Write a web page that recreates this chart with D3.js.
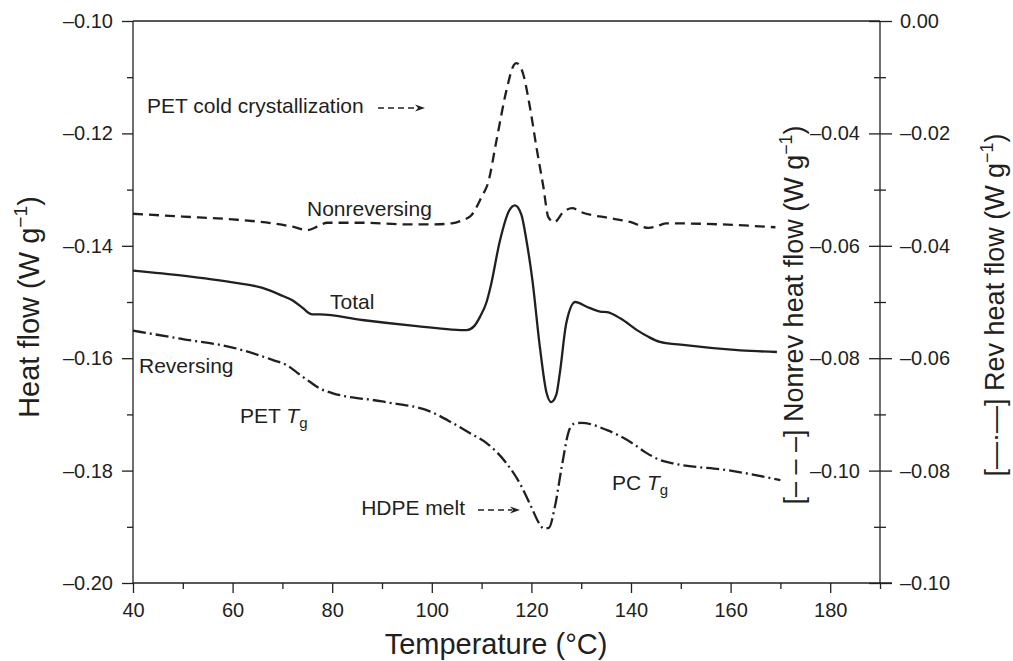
<!DOCTYPE html>
<html><head><meta charset="utf-8">
<script src="https://cdn.jsdelivr.net/npm/d3@7"></script>
<style>
body{margin:0;background:#fff;}
svg text{font-family:"Liberation Sans",Arial,Helvetica,sans-serif;fill:#231f20;}
</style></head>
<body><svg id="chart" width="1013" height="661"></svg>
<script>
// ---- data ----
const tempNonrev = [40,50,60,68,72,75,77,79,86,95,100,104,106,108,110,111.3,113,115,116.5,117,118.3,119.7,121,122.4,123.4,124.6,126.4,128.2,130,136,140,143.5,145,147,155,169];
const nonrev = [-0.0543,-0.0548,-0.0553,-0.0560,-0.0566,-0.0572,-0.0566,-0.0559,-0.0559,-0.0562,-0.0562,-0.0560,-0.0555,-0.0545,-0.0513,-0.0488,-0.0412,-0.0323,-0.0278,-0.0275,-0.0293,-0.0353,-0.0424,-0.0495,-0.0549,-0.0558,-0.0540,-0.0533,-0.0540,-0.0551,-0.0558,-0.0568,-0.0566,-0.0560,-0.0561,-0.0567];

const tempTotal = [40,50,60,66,70,72,74,76,77.5,86,97,104,107,108.5,109.7,111,111.8,113.7,115.5,116.7,118,119,120.2,121.7,123,124,125,125.7,127,128.8,131,133.8,135.2,138,141.2,143.5,145.8,150,162,169.3];
const total = [-0.1444,-0.1453,-0.1465,-0.1475,-0.1489,-0.1497,-0.1510,-0.1522,-0.1522,-0.1532,-0.1543,-0.1549,-0.1550,-0.1543,-0.1526,-0.1500,-0.1473,-0.1390,-0.1338,-0.1328,-0.1345,-0.1390,-0.1461,-0.1580,-0.1660,-0.1678,-0.1665,-0.1627,-0.1538,-0.1500,-0.1508,-0.1517,-0.1518,-0.1530,-0.1550,-0.1562,-0.1571,-0.1576,-0.1586,-0.1589];

const tempRev = [40,50,60,68,71,73,75.5,77.5,80,90,100,104.3,108,111,115,117.7,120,121.5,122.5,123.5,124.7,126.1,127.5,128.5,130,135.2,140.4,143,145.8,148.4,160,170];
const rev = [-0.0551,-0.0566,-0.0581,-0.0603,-0.0613,-0.0626,-0.0642,-0.0654,-0.0662,-0.0677,-0.0696,-0.0716,-0.0735,-0.0751,-0.0787,-0.0823,-0.0865,-0.0893,-0.0903,-0.0902,-0.0865,-0.0793,-0.0730,-0.0717,-0.0715,-0.0728,-0.0752,-0.0768,-0.0781,-0.0787,-0.0800,-0.0817];

const xTicks = [40,60,80,100,120,140,160,180];
const xMinor = [50,70,90,110,130,150,170,190];
const leftTicks = [-0.20,-0.18,-0.16,-0.14,-0.12,-0.10];
const leftMinor = [-0.19,-0.17,-0.15,-0.13,-0.11];
const nonrevTicks = [-0.10,-0.08,-0.06,-0.04];
const revTicks = [-0.10,-0.08,-0.06,-0.04,-0.02,0.00];
const revMinor = [-0.09,-0.07,-0.05,-0.03,-0.01];

// ---- layout ----
const L=133, R=880, T=21, B=583;
const svg = d3.select("#chart");
const ink = "#231f20";

const x = d3.scaleLinear([40,190],[L,R]);
const yL = d3.scaleLinear([-0.20,-0.10],[B,T]);
const yN = d3.scaleLinear([-0.12,-0.02],[B,T]);
const yR = d3.scaleLinear([-0.10,0.00],[B,T]);

const fmt = d => (d<0?"\u2013":"") + Math.abs(d).toFixed(2);

function style(g){
  g.select(".domain").remove();
  g.selectAll("line").attr("stroke",ink).attr("stroke-width",1.3);
  g.selectAll("text").attr("font-size",20).style("fill",ink);
}

// frame lines
svg.append("line").attr("x1",L).attr("x2",R).attr("y1",T).attr("y2",T).attr("stroke",ink).attr("stroke-width",1.3);
svg.append("line").attr("x1",L).attr("x2",R+12).attr("y1",B).attr("y2",B).attr("stroke",ink).attr("stroke-width",1.3);
svg.append("line").attr("x1",L).attr("x2",L).attr("y1",T).attr("y2",B).attr("stroke",ink).attr("stroke-width",1.3);
svg.append("line").attr("x1",R).attr("x2",R).attr("y1",T).attr("y2",B).attr("stroke",ink).attr("stroke-width",1.3);

// bottom axis
svg.append("g").attr("transform",`translate(0,${B})`)
  .call(d3.axisBottom(x).tickValues(xTicks).tickSize(10).tickPadding(10).tickFormat(d3.format("d"))).call(style);
svg.append("g").attr("transform",`translate(0,${B})`)
  .call(d3.axisBottom(x).tickValues(xMinor).tickSize(6).tickFormat("")).call(style);

// left axis
svg.append("g").attr("transform",`translate(${L},0)`)
  .call(d3.axisLeft(yL).tickValues(leftTicks).tickSize(11).tickPadding(9).tickFormat(fmt)).call(style);
svg.append("g").attr("transform",`translate(${L},0)`)
  .call(d3.axisLeft(yL).tickValues(leftMinor).tickSize(6).tickFormat("")).call(style);

// right axes (ticks cross the line)
svg.append("g").attr("transform",`translate(${R},0)`)
  .call(d3.axisRight(yR).tickValues(revTicks).tickSize(12).tickPadding(8).tickFormat(fmt)).call(style)
  .selectAll("line").attr("x1",-11);
svg.append("g").attr("transform",`translate(${R},0)`)
  .call(d3.axisRight(yR).tickValues(revMinor).tickSize(6).tickFormat("")).call(style)
  .selectAll("line").attr("x1",-6);
svg.append("g").attr("transform",`translate(${R},0)`)
  .call(d3.axisLeft(yN).tickValues(nonrevTicks).tickSize(0).tickPadding(20).tickFormat(fmt)).call(style);

// curves
function curve(xs, ys, yScale, dash){
  const pts = xs.map((t,i)=>[t,ys[i]]);
  svg.append("path").datum(pts)
    .attr("d", d3.line().x(d=>x(d[0])).y(d=>yScale(d[1])).curve(d3.curveMonotoneX))
    .attr("fill","none").attr("stroke",ink).attr("stroke-width",2.3)
    .attr("stroke-dasharray",dash);
}
curve(tempNonrev, nonrev, yN, "10,6");
curve(tempTotal, total, yL, null);
curve(tempRev, rev, yR, "13,4,2,4");

// annotations
function label(txt,xp,yp,anchor){
  return svg.append("text").attr("x",xp).attr("y",yp).attr("font-size",21)
    .attr("text-anchor",anchor||"start").text(txt);
}
label("PET cold crystallization",147,113);
label("Nonreversing",307,216);
label("Total",330,309);
label("Reversing",139,373);
const tg1 = svg.append("text").attr("x",240).attr("y",423).attr("font-size",21);
tg1.append("tspan").text("PET ");
tg1.append("tspan").attr("font-style","italic").text("T");
tg1.append("tspan").attr("font-size",15).attr("dy",5).text("g");
const tg2 = svg.append("text").attr("x",612).attr("y",490).attr("font-size",21);
tg2.append("tspan").text("PC ");
tg2.append("tspan").attr("font-style","italic").text("T");
tg2.append("tspan").attr("font-size",15).attr("dy",5).text("g");
label("HDPE melt",465,515,"end");

function arrow(x1,x2,yp){
  svg.append("line").attr("x1",x1).attr("x2",x2-8).attr("y1",yp).attr("y2",yp)
    .attr("stroke",ink).attr("stroke-width",1.3).attr("stroke-dasharray","6,4");
  svg.append("path").attr("d",`M${x2},${yp} L${x2-10},${yp-3.5} L${x2-7},${yp} L${x2-10},${yp+3.5} Z`).attr("fill",ink);
}
arrow(378,425,108);
arrow(478,520,510);

// axis titles
svg.append("text").attr("x",496).attr("y",654).attr("text-anchor","middle").attr("font-size",29)
  .text("Temperature (\u00B0C)");

function vtitle(xp,yp,size,prefix,main){
  const t = svg.append("text").attr("transform",`translate(${xp},${yp}) rotate(-90)`)
    .attr("text-anchor","middle").attr("font-size",size);
  if(prefix) t.append("tspan").text(prefix);
  t.append("tspan").text(main+" (W g");
  t.append("tspan").attr("font-size",size*0.66).attr("dy",-size*0.4).text("\u22121");
  t.append("tspan").attr("dy",size*0.4).text(")");
}
vtitle(39,307,29,null,"Heat flow");
vtitle(803,315,27,"[\u2013 \u2013 \u2013] ","Nonrev heat flow");
vtitle(1004,305,27,"[\u2014\u00B7\u2014] ","Rev heat flow");
</script></body></html>
